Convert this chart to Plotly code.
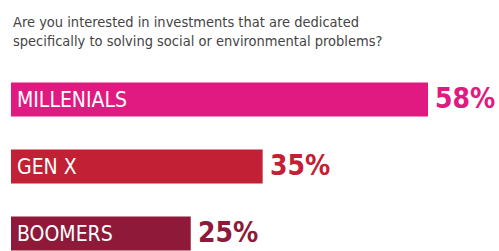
import plotly.graph_objects as go

categories = ["MILLENIALS", "GEN X", "BOOMERS"]
values = [58, 35, 25]
value_labels = ["58%", "35%", "25%"]
colors = ["#E01A80", "#C22034", "#8E1938"]
title_text = "Are you interested in investments that are dedicated<br>specifically to solving social or environmental problems?"

ypos = list(range(len(categories)))
FONT = "DejaVu Sans Condensed, Roboto, sans-serif"

fig = go.Figure()
fig.add_trace(go.Bar(
    x=values, y=ypos, orientation="h",
    marker=dict(color=colors, line=dict(width=0)),
    width=0.507, hoverinfo="skip",
))

H = 251
T = 66
plot_h = H - T

annotations = []
for i, (c, v, lab, col) in enumerate(zip(categories, values, value_labels, colors)):
    annotations.append(dict(
        x=0, y=i, xref="x", yref="y", text=c, showarrow=False,
        xanchor="left", yanchor="middle", xshift=4, yshift=0,
        font=dict(family=FONT, size=21, color="white"),
    ))
    annotations.append(dict(
        x=v, y=i, xref="x", yref="y", text="<b>" + lab + "</b>", showarrow=False,
        xanchor="left", yanchor="middle", xshift=5, yshift=1,
        font=dict(family=FONT, size=28, color=col),
    ))
annotations.append(dict(
    x=0, y=(H - 12) / plot_h, xref="paper", yref="paper", text=title_text,
    showarrow=False, xanchor="left", yanchor="top", align="left",
    font=dict(family=FONT, size=14.5, color="#444444"),
))

fig.update_layout(
    width=499, height=H,
    margin=dict(l=11, r=0, t=T, b=0),
    paper_bgcolor="white", plot_bgcolor="white",
    showlegend=False,
    xaxis=dict(range=[0, 488 / 7.19], visible=False, fixedrange=True),
    yaxis=dict(range=[2.26, -0.5], visible=False, fixedrange=True),
    annotations=annotations,
)

fig.write_html(
    "out.html",
    config={"displayModeBar": False},
    post_script="document.body.style.margin='0';document.body.style.padding='0';",
)
